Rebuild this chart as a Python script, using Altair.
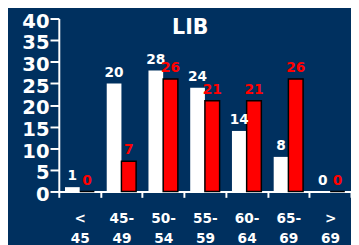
import altair as alt
import pandas as pd

categories = ["<|45", "45-|49", "50-|54", "55-|59", "60-|64", "65-|69", ">|69"]
series_names = ["A", "B"]
white_values = [1, 25, 28, 24, 14, 8, 0]
white_labels = ["1", "20", "28", "24", "14", "8", "0"]
red_values = [0, 7, 26, 21, 21, 26, 0]
red_labels = ["0", "7", "26", "21", "21", "26", "0"]
y_ticks = [0, 5, 10, 15, 20, 25, 30, 35, 40]
title_text = "LIB"

BG = "#00305F"
FONT = "DejaVu Sans"

rows = []
for c, v, l in zip(categories, white_values, white_labels):
    rows.append({"cat": c, "series": "A", "value": v, "label": l})
for c, v, l in zip(categories, red_values, red_labels):
    rows.append({"cat": c, "series": "B", "value": v, "label": l})
df = pd.DataFrame(rows)

x_enc = alt.X(
    "cat:N",
    sort=categories,
    scale=alt.Scale(paddingInner=0, paddingOuter=0),
    axis=alt.Axis(
        title=None,
        labelAngle=0,
        labelExpr="split(datum.label, '|')",
        tickBand="extent",
        domainColor="white",
        domainWidth=2,
        tickColor="white",
        tickWidth=2,
        tickSize=6,
        labelColor="white",
        labelFont=FONT,
        labelFontSize=14,
        labelFontWeight="bold",
        labelLineHeight=20,
        labelPadding=15,
        labelBaseline="top",
    ),
)
xoff_enc = alt.XOffset(
    "series:N", sort=series_names, scale=alt.Scale(paddingInner=0, paddingOuter=0.42)
)
y_enc = alt.Y(
    "value:Q",
    scale=alt.Scale(domain=[0, 40], nice=False),
    axis=alt.Axis(
        values=y_ticks,
        title=None,
        grid=False,
        domainColor="white",
        domainWidth=2,
        tickColor="white",
        tickWidth=2,
        tickSize=9,
        labelColor="white",
        labelFont=FONT,
        labelFontSize=20,
        labelFontWeight="bold",
        labelPadding=1,
        labelOffset=3,
        labelOverlap=False,
    ),
)
color_enc = alt.Color(
    "series:N", sort=series_names,
    scale=alt.Scale(domain=series_names, range=["#FFFFFF", "#FF0000"]),
    legend=None,
)

bars = alt.Chart(df).mark_bar(strokeWidth=1.5).encode(
    x=x_enc,
    xOffset=xoff_enc,
    y=y_enc,
    color=color_enc,
    stroke=alt.condition(alt.datum.series == "B", alt.value("black"), alt.value("transparent")),
)

labels = alt.Chart(df).mark_text(
    font=FONT, fontSize=14, fontWeight="bold", baseline="alphabetic", dy=-7
).encode(
    x=x_enc,
    xOffset=xoff_enc,
    y=y_enc,
    text="label:N",
    color=color_enc,
)

chart = alt.layer(bars, labels).properties(
    width=299,
    height=177,
    autosize=alt.AutoSizeParams(type="none"),
    padding={"left": 52, "top": 8, "right": 0, "bottom": 52},
    background=BG,
    title=alt.TitleParams(
        title_text, color="white", fontSize=21, fontWeight="bold", font=FONT,
        anchor="middle", dx=-15, dy=31,
    ),
).configure_view(stroke=None)

try:
    import jinja2
    from altair.utils.html import HTML_TEMPLATE
    tpl = jinja2.Template(HTML_TEMPLATE.replace(
        "<body>", '<body style="background:%s;overflow:hidden">' % BG))
    chart.save("out.html", embed_options={"renderer": "svg", "actions": False}, template=tpl)
except Exception:
    chart.save("out.html", embed_options={"renderer": "svg", "actions": False})
